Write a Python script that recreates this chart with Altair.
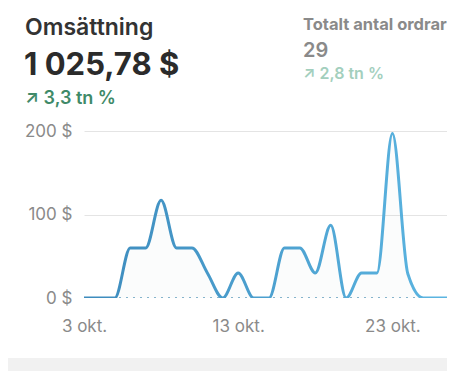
import altair as alt
import pandas as pd

days = list(range(3, 28))
revenue = [0, 0, 0, 60, 60, 117, 60, 60, 30, 0, 30, 0, 0, 60, 60, 30, 87, 0, 30, 30, 197, 29, 0, 0, 0]
previous = [0] * len(days)
x_ticks = [3, 13, 23]
y_ticks = [0, 100, 200]

df = pd.DataFrame({"day": days, "revenue": revenue, "previous": previous})

TOTAL_W, TOTAL_H = 439, 363
ox, oy = 84, 131          # plot origin on the page
W = TOTAL_W - (ox - 8)    # 363
H = 167
PX_PER_DAY = 15.42
FONT = "Inter"

x = alt.X("day:Q", scale=alt.Scale(domain=[3, 3 + W / PX_PER_DAY], nice=False, zero=False),
          axis=alt.Axis(values=x_ticks, labelExpr="datum.value + ' okt.'", title=None,
                        grid=False, domain=False, ticks=False, labelPadding=20,
                        labelFontSize=17, labelColor="#8a8a8a", labelFont=FONT,
                        labelFlush=False))
y = alt.Y("revenue:Q", scale=alt.Scale(domain=[0, 200], nice=False),
          axis=alt.Axis(values=y_ticks, labelExpr="datum.value + ' $'", title=None,
                        domain=False, ticks=False, labelPadding=12,
                        labelFontSize=17, labelColor="#8a8a8a", labelFont=FONT,
                        gridColor=alt.condition("datum.value === 0", alt.value("transparent"), alt.value("#e4e4e4")),
                        gridWidth=1))

base = alt.Chart(df)

area = base.mark_area(interpolate="monotone", color="#8a9aa6", opacity=0.03, clip=True).encode(x=x, y=y)
dotted = base.mark_line(color="#86b4cc", strokeDash=[2, 5], strokeWidth=1.8, clip=True).encode(
    x="day:Q", y="previous:Q")
line = base.mark_line(
    interpolate="monotone", strokeWidth=3, strokeCap="round", strokeJoin="round", clip=True,
    stroke=alt.Gradient(gradient="linear", x1=0, x2=1, y1=0, y2=0,
                        stops=[alt.GradientStop(color="#3d8bbd", offset=0),
                               alt.GradientStop(color="#5cb6e2", offset=1)])
).encode(x="day:Q", y="revenue:Q")

def txt(s, xv, yv, size, color, weight="normal", align="left"):
    return alt.Chart(pd.DataFrame({"t": [s]})).mark_text(
        align=align, baseline="alphabetic", fontSize=size, color=color, fontWeight=weight, font=FONT
    ).encode(text="t:N", x=alt.value(xv), y=alt.value(yv))

texts = [
    txt("Omsättning", 25 - ox, 35 - oy, 23, "#333333", 600),
    txt("1 025,78 $", 24 - ox, 75 - oy, 31, "#2b2b2b", "bold"),
    txt("↗ 3,3 tn %", 25 - ox, 104 - oy, 18, "#3f8a68", 600),
    txt("Totalt antal ordrar", 303 - ox, 30 - oy, 16.5, "#8a8a8a", "bold"),
    txt("29", 303 - ox, 57 - oy, 20, "#8a8a8a", 600),
    txt("↗ 2,8 tn %", 303 - ox, 79 - oy, 16, "#a3cfbd", 600),
]

band = alt.Chart(pd.DataFrame({"a": [0]})).mark_rect(color="#f1f1f1").encode(
    x=alt.value(-ox), x2=alt.value(W + 20), y=alt.value(358 - oy), y2=alt.value(TOTAL_H + 8 - oy))

chart = alt.layer(band, area, dotted, line, *texts).properties(
    width=W, height=H, background="white",
    autosize=alt.AutoSizeParams(type="none"),
    padding={"left": ox - 8, "top": oy - 8, "right": 0, "bottom": TOTAL_H - (oy - 8) - H},
).configure_view(strokeWidth=0, stroke="transparent")

chart.save("out.html", embed_options={"renderer": "svg", "actions": False})
